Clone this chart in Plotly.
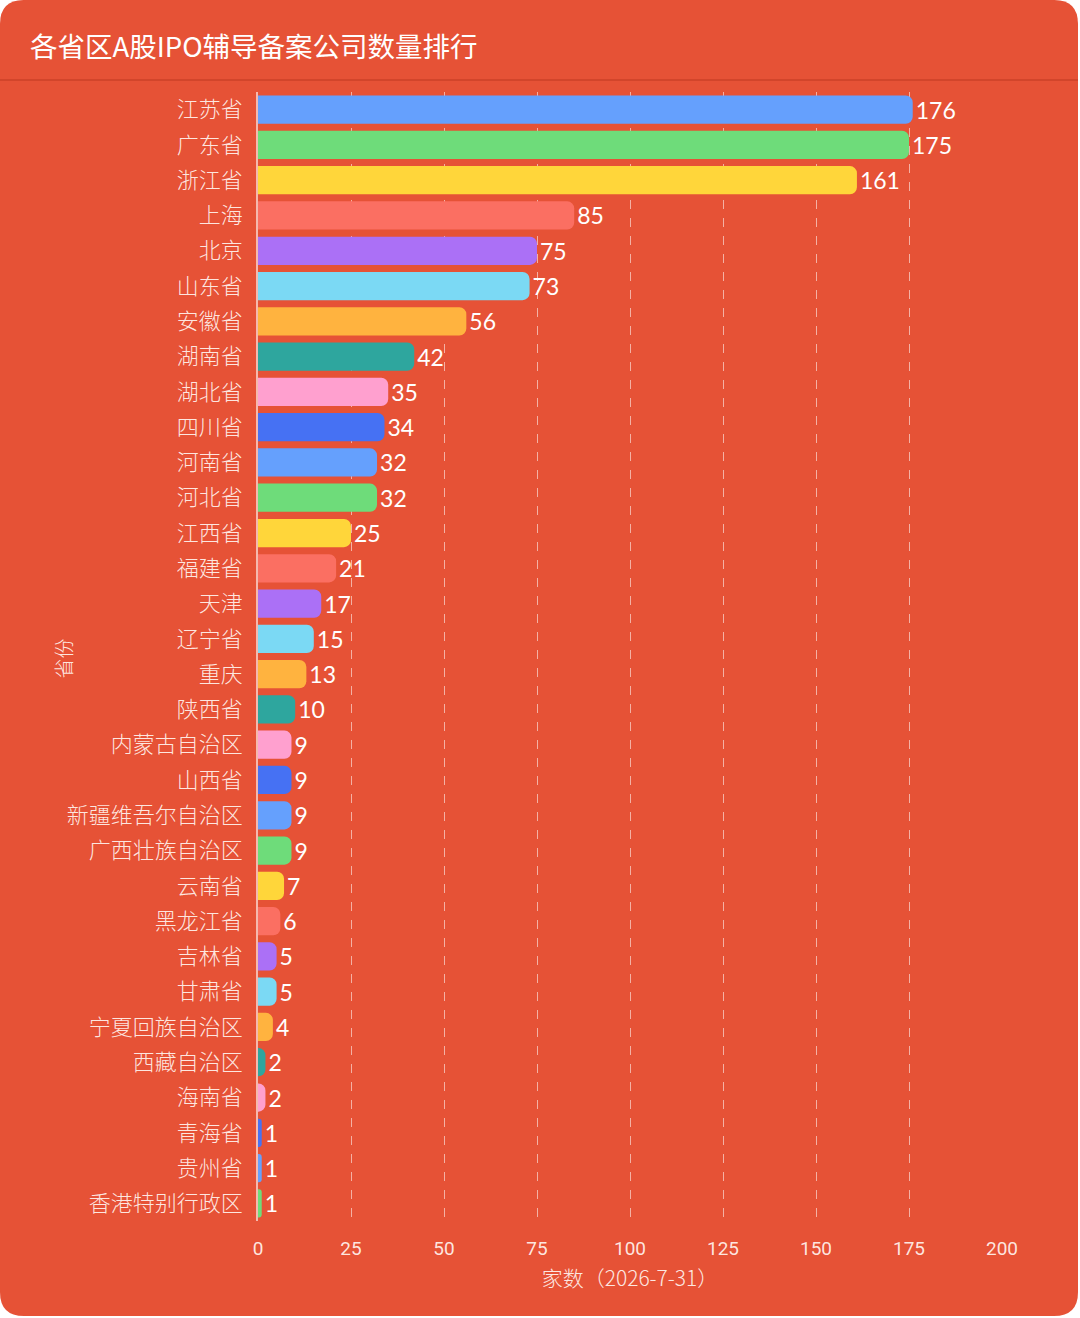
import plotly.graph_objects as go

provinces = ['江苏省', '广东省', '浙江省', '上海', '北京', '山东省', '安徽省', '湖南省',
             '湖北省', '四川省', '河南省', '河北省', '江西省', '福建省', '天津', '辽宁省',
             '重庆', '陕西省', '内蒙古自治区', '山西省', '新疆维吾尔自治区', '广西壮族自治区',
             '云南省', '黑龙江省', '吉林省', '甘肃省', '宁夏回族自治区', '西藏自治区',
             '海南省', '青海省', '贵州省', '香港特别行政区']
counts = [176, 175, 161, 85, 75, 73, 56, 42, 35, 34, 32, 32, 25, 21, 17, 15,
          13, 10, 9, 9, 9, 9, 7, 6, 5, 5, 4, 2, 2, 1, 1, 1]
x_ticks = [0, 25, 50, 75, 100, 125, 150, 175, 200]

palette = ['#65a0fd', '#6edc7a', '#ffd63a', '#fb6f62', '#ab70f6',
           '#7bd9f4', '#ffb33f', '#2ea69e', '#ffa0cf', '#4671f3']
bar_colors = [palette[i % len(palette)] for i in range(len(provinces))]

bg = '#e65236'
txt = 'rgba(255,240,235,0.95)'
cjk = 'Noto Sans CJK SC'

W, H = 1080, 1318
ML, MR, MT, MB = 258, 78, 92, 97
PW, PH = W - ML - MR, H - MT - MB


# pixel -> paper coords, for the card background
def px(x):
    return (x - ML) / PW


def py(y):
    return (H - MB - y) / PH


def card_path(x0, y0, x1, y1, r):
    pts = [('M', x0 + r, y0), ('L', x1 - r, y0), ('Q', x1, y0, x1, y0 + r),
           ('L', x1, y1 - r), ('Q', x1, y1, x1 - r, y1), ('L', x0 + r, y1),
           ('Q', x0, y1, x0, y1 - r), ('L', x0, y0 + r), ('Q', x0, y0, x0 + r, y0)]
    out = ''
    for p in pts:
        cmd, coords = p[0], p[1:]
        vals = []
        for i in range(0, len(coords), 2):
            vals.append(f'{px(coords[i]):.5f},{py(coords[i + 1]):.5f}')
        out += cmd + ' '.join(vals) + ' '
    return out + 'Z'


fig = go.Figure()

fig.add_trace(go.Bar(x=counts, y=provinces,
                     orientation='h',
                     marker=dict(color=bar_colors, cornerradius=7, line=dict(width=0)),
                     width=0.8,
                     text=counts,
                     textposition='outside',
                     textfont=dict(color='#ffffff', size=23, family='Lato'),
                     cliponaxis=False,
                     hoverinfo='x+y'))

fig.update_layout(width=W, height=H,
                  paper_bgcolor='#ffffff',
                  plot_bgcolor='rgba(0,0,0,0)',
                  margin=dict(l=ML, r=MR, t=MT, b=MB),
                  showlegend=False,
                  title=dict(text='各省区A股IPO辅导备案公司数量排行',
                             x=30 / W, xanchor='left',
                             y=1 - 47 / H, yanchor='middle',
                             font=dict(family=cjk, size=27.5, color='#ffffff')),
                  xaxis=dict(range=[0, 200],
                             tickvals=x_ticks,
                             showgrid=True,
                             gridcolor='rgba(255,255,255,0.55)',
                             griddash='dash',
                             gridwidth=1,
                             zeroline=False,
                             showline=False,
                             ticks='',
                             ticklabelstandoff=14,
                             tickfont=dict(family='Roboto', size=19, color=txt),
                             title=dict(text='家数（2026-7-31）', standoff=12,
                                        font=dict(family=cjk, size=21, color=txt, weight=300))),
                  yaxis=dict(autorange='reversed',
                             showgrid=False,
                             showline=True,
                             linecolor='rgba(255,255,255,0.6)',
                             linewidth=1.5,
                             ticks='',
                             ticklabelstandoff=9,
                             tickfont=dict(family=cjk, size=22, color=txt, weight=300)),
                  annotations=[dict(text='省份', xref='paper', yref='paper',
                                    x=px(47), y=py(658), textangle=-90,
                                    showarrow=False,
                                    font=dict(family=cjk, size=20, color=txt, weight=300))],
                  shapes=[dict(type='path', xref='paper', yref='paper', layer='below',
                               path=card_path(0, 0, 1078, 1316, 24),
                               fillcolor=bg, line=dict(width=0)),
                          dict(type='line', xref='paper', yref='paper', layer='below',
                               x0=px(0), x1=px(1078), y0=py(80), y1=py(80),
                               line=dict(color='rgba(150,30,10,0.25)', width=2))])

fig.write_html('out.html', config={'displayModeBar': False},
               post_script="document.body.style.margin='0';")
